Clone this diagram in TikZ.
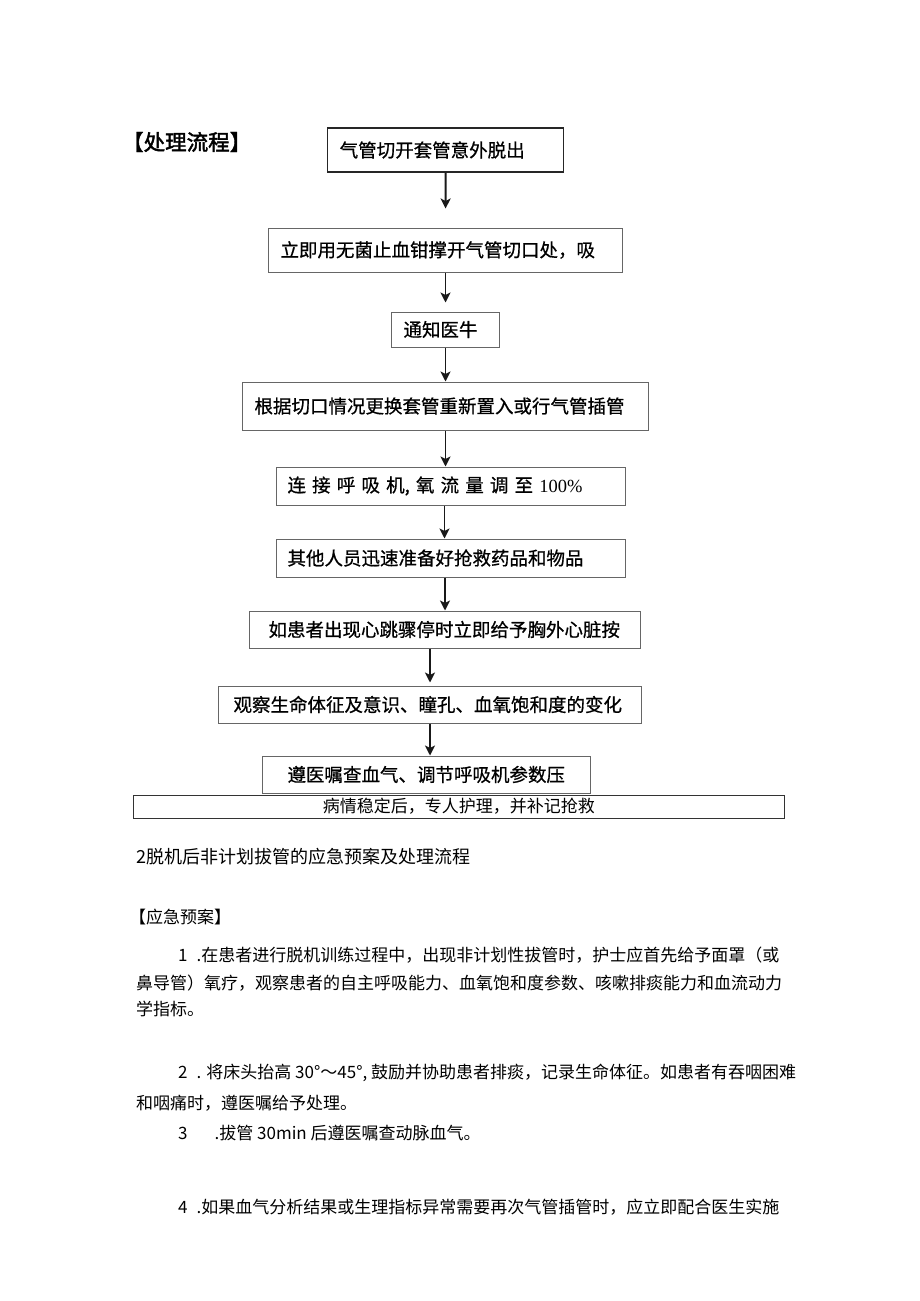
\documentclass[tikz,border=0pt]{standalone}
\usepackage{fontspec}
\setmainfont{Noto Sans CJK SC}
\newfontfamily\titlefont[FakeBold=2]{Noto Sans CJK SC}
\newfontfamily\boxfont[FakeBold=0.7]{Noto Sans CJK SC}
\newfontfamily\pctfont{Liberation Serif}
\usetikzlibrary{arrows.meta}

\begin{document}
\begin{tikzpicture}[
    x=1pt, y=-1pt,
    font=\fontsize{17pt}{20pt}\selectfont,
    block/.style={
      draw=black!60,
      line width=1pt,
      anchor=west,
      align=left,
      inner xsep=12pt,
      inner ysep=0pt,
      font=\boxfont\fontsize{18.5pt}{22pt}\selectfont
    },
    para/.style={anchor=west, inner sep=0pt},
    flow/.style={-{Stealth[length=10pt, width=10pt, inset=2.5pt]}, line width=1.9pt, draw=black!90}
  ]
  \useasboundingbox (0,0) rectangle (920,1301);

  % flow chart
  \node[para, font=\titlefont\fontsize{21.5pt}{24pt}\selectfont] (title) at (122,142) {【处理流程】};

  \node[block, draw=black!85, line width=1.4pt, text width=212pt, minimum height=44pt] (b1) at (327,150) {气管切开套管意外脱出};
  \node[block, text width=330pt, minimum height=44pt] (b2) at (268,250) {立即用无菌止血钳撑开气管切口处，吸};
  \node[block, text width=84pt, minimum height=35pt] (b3) at (391,329.5) {通知医牛};
  \node[block, text width=382pt, minimum height=48pt] (b4) at (242,406) {根据切口情况更换套管重新置入或行气管插管};
  \node[block, inner xsep=11pt, text width=327pt, minimum height=38pt] (b5) at (276,486) {\makebox[326pt][s]{连 接 呼 吸 机, 氧 流 量 调 至 {\pctfont 100\%}}};
  \node[block, inner xsep=11pt, text width=327pt, minimum height=38pt] (b6) at (276,558) {其他人员迅速准备好抢救药品和物品};
  \node[block, inner xsep=19pt, text width=353pt, minimum height=37pt] (b7) at (249,629.5) {如患者出现心跳骤停时立即给予胸外心脏按};
  \node[block, inner xsep=15pt, text width=393pt, minimum height=37pt] (b8) at (218,704.5) {观察生命体征及意识、瞳孔、血氧饱和度的变化};
  \node[block, inner xsep=25pt, text width=278pt, minimum height=37pt] (b9) at (262,774.5) {遵医嘱查血气、调节呼吸机参数压};
  \node[draw=black!80, line width=0.9pt, anchor=west, inner sep=0pt, minimum width=651pt, minimum height=23pt] (note) at (133,806.5) {病情稳定后，专人护理，并补记抢救};

  \draw[flow, shorten >=19pt] (b1) -- (b2);
  \draw[flow, shorten >=9pt] (b2) -- (b3);
  \draw[flow] (b3) -- (b4);
  \draw[flow] (b4.south) -- (b4.south |- b5.north);
  \draw[flow] ([xshift=-6.5pt]b5.south) -- ([xshift=-6.5pt]b6.north);
  \draw[flow] (b6.south -| b7.north) -- (b7.north);
  \draw[flow, shorten >=3pt] (b7.south -| b8.north) -- (b8.north);
  \draw[flow] (b8.south) -- (b8.south |- b9.north);

  % text below
  \node[para, font=\fontsize{18pt}{20pt}\selectfont] (sec2) at (136,857) {2脱机后非计划拔管的应急预案及处理流程};
  \node[para] (plan) at (129,917) {【应急预案】};
  \node[para] (item1) at (178,955) {1\hspace{9pt}.在患者进行脱机训练过程中，出现非计划性拔管时，护士应首先给予面罩（或};
  \node[para] (item1b) at (136,983) {鼻导管）氧疗，观察患者的自主呼吸能力、血氧饱和度参数、咳嗽排痰能力和血流动力};
  \node[para] (item1c) at (136,1009) {学指标。};
  \node[para] (item2) at (178,1073) {2\hspace{9pt}. 将床头抬高 30°～45°, 鼓励并协助患者排痰，记录生命体征。如患者有吞咽困难};
  \node[para] (item2b) at (136,1103) {和咽痛时，遵医嘱给予处理。};
  \node[para] (item3) at (178,1133) {3\hspace{27pt}.拔管 30min 后遵医嘱查动脉血气。};
  \node[para] (item4) at (178,1207) {4\hspace{9pt}.如果血气分析结果或生理指标异常需要再次气管插管时，应立即配合医生实施};
\end{tikzpicture}
\end{document}
